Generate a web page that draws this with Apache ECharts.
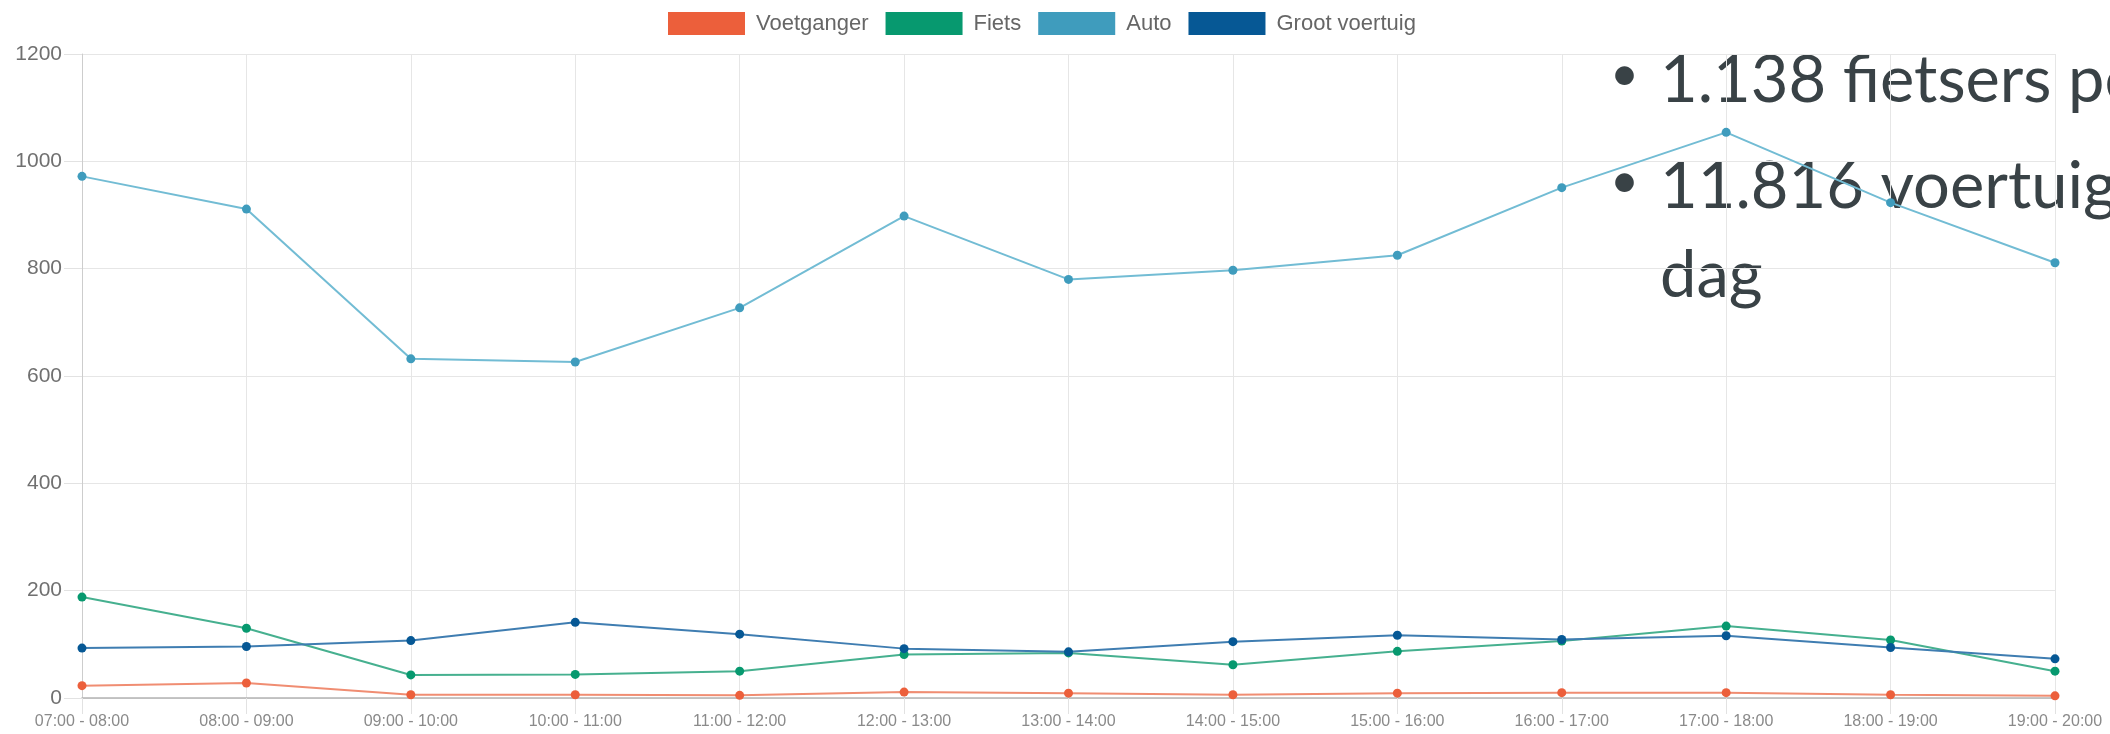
<!DOCTYPE html>
<html>
<head>
<meta charset="utf-8">
<script src="https://cdn.jsdelivr.net/npm/echarts@6/dist/echarts.min.js"></script>
<style>
  html, body { margin: 0; padding: 0; background: #fff; }
  #chart { width: 2110px; height: 734px; }
</style>
</head>
<body>
<div id="chart"></div>
<script>
const hours = [
  '07:00 - 08:00', '08:00 - 09:00', '09:00 - 10:00', '10:00 - 11:00',
  '11:00 - 12:00', '12:00 - 13:00', '13:00 - 14:00', '14:00 - 15:00',
  '15:00 - 16:00', '16:00 - 17:00', '17:00 - 18:00', '18:00 - 19:00',
  '19:00 - 20:00'
]
const voetganger = [23, 28, 6, 6, 5, 11, 9, 6, 9, 10, 10, 6, 4]
const fiets = [188, 130, 43, 44, 50, 81, 84, 62, 87, 106, 134, 108, 50]
const auto = [972, 911, 632, 626, 727, 898, 780, 797, 825, 951, 1054, 923, 811]
const grootVoertuig = [93, 96, 107, 141, 119, 92, 86, 105, 117, 109, 116, 94, 73]
const yTicks = [0, 200, 400, 600, 800, 1000, 1200]

const seriesInfo = [
  { name: 'Voetganger', data: voetganger, color: '#ec5f3b', line: '#f08d72' },
  { name: 'Fiets', data: fiets, color: '#07996f', line: '#46b08f' },
  { name: 'Auto', data: auto, color: '#3f9cbd', line: '#72bcd4' },
  { name: 'Groot voertuig', data: grootVoertuig, color: '#065895', line: '#3f7db1' }
]

// slide text laid over the chart
const slideFont = 'Lato, "Open Sans", sans-serif'
const slideColor = '#394246'

const chart = echarts.init(document.getElementById('chart'))
chart.setOption({
  backgroundColor: '#fff',
  animation: false,
  legend: {
    left: 668,
    top: 12,
    padding: 0,
    icon: 'rect',
    itemWidth: 77,
    itemHeight: 23,
    itemGap: 17,
    textStyle: {
      fontFamily: '"Liberation Sans", Arial, sans-serif',
      fontSize: 22,
      color: '#666',
      padding: [0, 0, 0, 6]
    },
    data: seriesInfo.map(s => s.name)
  },
  grid: {
    left: 82, right: 55, top: 54, bottom: 36,
    containLabel: false,
    outerBoundsMode: 'none'
  },
  xAxis: {
    type: 'category',
    boundaryGap: false,
    data: hours,
    axisLine: { lineStyle: { color: '#b4b4b4', width: 1.5 } },
    axisTick: { show: true, length: 16, interval: 0, lineStyle: { color: '#e2e2e2' } },
    splitLine: { show: true, interval: 0, lineStyle: { color: '#e6e6e6' } },
    axisLabel: {
      interval: 0,
      margin: 16,
      fontFamily: '"Liberation Sans", Arial, sans-serif',
      fontSize: 16,
      color: '#8a8a8a'
    }
  },
  yAxis: {
    type: 'value',
    min: yTicks[0],
    max: yTicks[yTicks.length - 1],
    interval: 200,
    axisLine: { show: true, lineStyle: { color: '#cdcdcd' } },
    axisTick: { show: true, length: 18, lineStyle: { color: '#e2e2e2' } },
    splitLine: { lineStyle: { color: '#e6e6e6' } },
    axisLabel: {
      margin: 20,
      formatter: v => String(v),
      fontFamily: '"Liberation Sans", Arial, sans-serif',
      fontSize: 21,
      color: '#707070'
    }
  },
  series: seriesInfo.map(s => ({
    name: s.name,
    type: 'line',
    data: s.data,
    symbol: 'circle',
    symbolSize: 9,
    itemStyle: { color: s.color },
    lineStyle: { color: s.line, width: 2 }
  })),
  graphic: [
    { type: 'text', left: 1610, top: 50, style: { text: '•', font: '50px ' + slideFont, fill: slideColor } },
    { type: 'text', left: 1660, top: 49, style: { text: '1.138 fietsers per dag', font: '65px ' + slideFont, fill: slideColor } },
    { type: 'text', left: 1610, top: 157, style: { text: '•', font: '50px ' + slideFont, fill: slideColor } },
    { type: 'text', left: 1660, top: 155, style: { text: '11.816 voertuigen per', font: '65px ' + slideFont, fill: slideColor } },
    { type: 'text', left: 1660, top: 244, style: { text: 'dag', font: '65px ' + slideFont, fill: slideColor } }
  ]
})
</script>
</body>
</html>
